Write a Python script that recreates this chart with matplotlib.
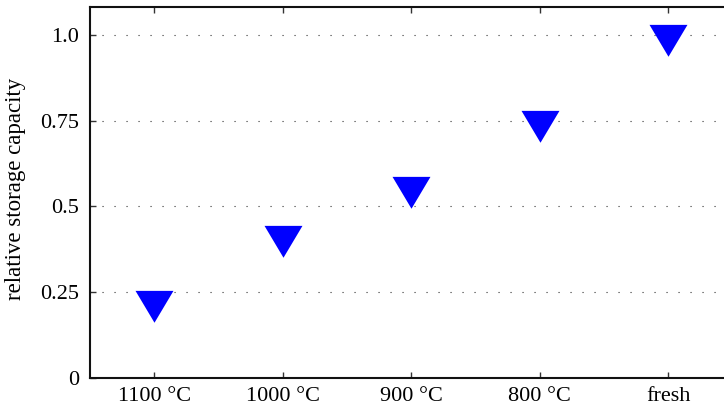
import numpy as np
import matplotlib
matplotlib.use("Agg")
import matplotlib.pyplot as plt
from matplotlib.path import Path

plt.rcParams['font.family'] = ['Liberation Serif', 'DejaVu Serif']
plt.rcParams['lines.scale_dashes'] = False

# data
labels = ["1100 °C", "1000 °C", "900 °C", "800 °C", "fresh"]
capacity = [0.222, 0.414, 0.557, 0.75, 1.0]
yticks = [0, 0.25, 0.5, 0.75, 1.0]
yticklabels = ["0", "0.25", "0.5", "0.75", "1.0"]

# downward triangle centred on its centroid
tri = Path([(-1, 0.56), (1, 0.56), (0, -1.12), (-1, 0.56)],
           [Path.MOVETO, Path.LINETO, Path.LINETO, Path.CLOSEPOLY])

fig = plt.figure(figsize=(7.24, 4.11), dpi=100)
# axes run off the right edge of the picture, so stop them exactly at it
ax = fig.add_axes([90/724, 1 - 377.5/411, 634/724, 370.5/411])

x = np.arange(len(labels))
ax.plot(x, capacity, linestyle="none", marker=tri, markersize=30.6,
        color=(0, 0, 1), markeredgewidth=0, zorder=3)

ax.set_xlim(-0.5, -0.5 + 634/128.5)
ax.set_ylim(0, 1.082)
ax.set_xticks(x)
ax.set_xticklabels(labels)
ax.set_yticks(yticks)
ax.set_yticklabels(yticklabels)
ax.set_ylabel("relative storage capacity", fontsize=16.5)
ax.yaxis.set_label_coords(-0.101, 0.51)

ax.tick_params(axis="both", labelsize=16, direction="in", length=4,
               width=1, color="#333333")
ax.tick_params(axis="x", top=True, pad=7)
ax.tick_params(axis="y", pad=8)

for s in ax.spines.values():
    s.set_linewidth(1.5)
    s.set_color("#111111")
ax.spines['right'].set_visible(False)

ax.yaxis.grid(True, linestyle=(0, (0.8, 7.84)), color="#333333", linewidth=0.8)
ax.set_axisbelow(True)

fig.savefig("out.png", dpi=100)
